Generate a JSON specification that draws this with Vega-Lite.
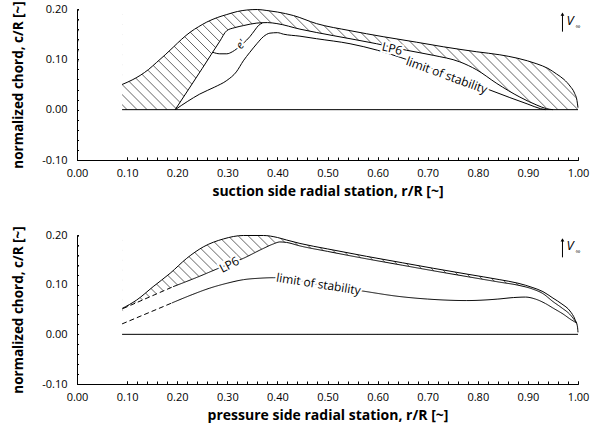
{
  "$schema": "https://vega.github.io/schema/vega-lite/v6.json",
  "padding": {"left": 11, "top": 0, "right": 5, "bottom": 5},
  "bounds": "flush",
  "spacing": 75,
  "config": {
    "font": "Open Sans",
    "view": {"stroke": null},
    "axis": {"grid": false, "domainColor": "#000", "tickColor": "#000", "labelColor": "#000", "titleColor": "#000", "labelFontSize": 11, "titleFontWeight": "bold", "tickSize": -3, "labelFlush": false, "labelBound": false, "zindex": 1, "domainWidth": 1, "tickWidth": 1},
    "text": {"font": "Open Sans", "fontSize": 12}
  },
  "datasets": {
    "one": [{}],
    "t_out": [
      {"x": 0.09, "y": 0.05}, {"x": 0.11, "y": 0.059}, {"x": 0.126, "y": 0.068}, {"x": 0.143, "y": 0.08}, {"x": 0.159, "y": 0.094}, {"x": 0.176, "y": 0.109}, {"x": 0.192, "y": 0.124}, {"x": 0.209, "y": 0.14}, {"x": 0.226, "y": 0.154}, {"x": 0.243, "y": 0.165}, {"x": 0.259, "y": 0.174}, {"x": 0.28, "y": 0.183}, {"x": 0.299, "y": 0.189}, {"x": 0.32, "y": 0.195}, {"x": 0.339, "y": 0.198}, {"x": 0.36, "y": 0.199}, {"x": 0.379, "y": 0.197}, {"x": 0.4, "y": 0.194}, {"x": 0.432, "y": 0.187}, {"x": 0.478, "y": 0.171}, {"x": 0.545, "y": 0.157}, {"x": 0.611, "y": 0.145}, {"x": 0.678, "y": 0.134}, {"x": 0.731, "y": 0.125}, {"x": 0.798, "y": 0.115}, {"x": 0.844, "y": 0.109}, {"x": 0.88, "y": 0.102}, {"x": 0.918, "y": 0.091}, {"x": 0.94, "y": 0.082}, {"x": 0.957, "y": 0.071}, {"x": 0.972, "y": 0.06}, {"x": 0.984, "y": 0.047}, {"x": 0.993, "y": 0.033}, {"x": 0.998, "y": 0.018}, {"x": 1.0, "y": 0.004}
    ],
    "t_lp6": [
      {"x": 0.196, "y": 0}, {"x": 0.25, "y": 0.082}, {"x": 0.285, "y": 0.136}, {"x": 0.299, "y": 0.157}, {"x": 0.315, "y": 0.163}, {"x": 0.332, "y": 0.167}, {"x": 0.359, "y": 0.172}, {"x": 0.38, "y": 0.173}, {"x": 0.399, "y": 0.171}, {"x": 0.445, "y": 0.16}, {"x": 0.512, "y": 0.147}, {"x": 0.598, "y": 0.131}, {"x": 0.658, "y": 0.118}, {"x": 0.711, "y": 0.108}, {"x": 0.764, "y": 0.095}, {"x": 0.798, "y": 0.079}, {"x": 0.838, "y": 0.052}, {"x": 0.884, "y": 0.025}, {"x": 0.918, "y": 0.009}, {"x": 0.937, "y": 0.002}, {"x": 0.95, "y": 0}
    ],
    "t_lim": [
      {"x": 0.196, "y": 0}, {"x": 0.22, "y": 0.016}, {"x": 0.245, "y": 0.031}, {"x": 0.275, "y": 0.045}, {"x": 0.299, "y": 0.058}, {"x": 0.318, "y": 0.075}, {"x": 0.332, "y": 0.097}, {"x": 0.345, "y": 0.114}, {"x": 0.359, "y": 0.131}, {"x": 0.372, "y": 0.145}, {"x": 0.385, "y": 0.152}, {"x": 0.4, "y": 0.153}, {"x": 0.412, "y": 0.15}, {"x": 0.445, "y": 0.146}, {"x": 0.478, "y": 0.141}, {"x": 0.545, "y": 0.131}, {"x": 0.6, "y": 0.118}, {"x": 0.645, "y": 0.104}, {"x": 0.7, "y": 0.085}, {"x": 0.75, "y": 0.066}, {"x": 0.811, "y": 0.044}, {"x": 0.864, "y": 0.024}, {"x": 0.9, "y": 0.011}, {"x": 0.925, "y": 0.002}, {"x": 0.935, "y": 0}
    ],
    "t_e": [
      {"x": 0.271, "y": 0.114}, {"x": 0.285, "y": 0.111}, {"x": 0.299, "y": 0.111}, {"x": 0.31, "y": 0.115}, {"x": 0.319, "y": 0.121}, {"x": 0.332, "y": 0.132}, {"x": 0.345, "y": 0.145}, {"x": 0.355, "y": 0.158}, {"x": 0.362, "y": 0.167}, {"x": 0.37, "y": 0.172}
    ],
    "t_hatch": [
      {"x": -0.1, "x2": 0.1}, {"x": -0.08, "x2": 0.12}, {"x": -0.06, "x2": 0.14}, {"x": -0.04, "x2": 0.16}, {"x": -0.02, "x2": 0.18}, {"x": 0.0, "x2": 0.2}, {"x": 0.02, "x2": 0.22}, {"x": 0.04, "x2": 0.24}, {"x": 0.06, "x2": 0.26}, {"x": 0.08, "x2": 0.28}, {"x": 0.1, "x2": 0.3}, {"x": 0.12, "x2": 0.32}, {"x": 0.14, "x2": 0.34}, {"x": 0.16, "x2": 0.36}, {"x": 0.18, "x2": 0.38}, {"x": 0.2, "x2": 0.4}, {"x": 0.22, "x2": 0.42}, {"x": 0.24, "x2": 0.44}, {"x": 0.26, "x2": 0.46}, {"x": 0.28, "x2": 0.48}, {"x": 0.3, "x2": 0.5}, {"x": 0.32, "x2": 0.52}, {"x": 0.34, "x2": 0.54}, {"x": 0.36, "x2": 0.56}, {"x": 0.38, "x2": 0.58}, {"x": 0.4, "x2": 0.6}, {"x": 0.42, "x2": 0.62}, {"x": 0.44, "x2": 0.64}, {"x": 0.46, "x2": 0.66}, {"x": 0.48, "x2": 0.68}, {"x": 0.5, "x2": 0.7}, {"x": 0.52, "x2": 0.72}, {"x": 0.54, "x2": 0.74}, {"x": 0.56, "x2": 0.76}, {"x": 0.58, "x2": 0.78}, {"x": 0.6, "x2": 0.8}, {"x": 0.62, "x2": 0.82}, {"x": 0.64, "x2": 0.84}, {"x": 0.66, "x2": 0.86}, {"x": 0.68, "x2": 0.88}, {"x": 0.7, "x2": 0.9}, {"x": 0.72, "x2": 0.92}, {"x": 0.74, "x2": 0.94}, {"x": 0.76, "x2": 0.96}, {"x": 0.78, "x2": 0.98}, {"x": 0.8, "x2": 1.0}, {"x": 0.82, "x2": 1.02}
    ],
    "t_lab": [
      {"t": "LP6", "x": 0.629, "y": 0.121},
      {"t": "limit of stability", "x": 0.738, "y": 0.068},
      {"t": "e'", "x": 0.328, "y": 0.129}
    ],
    "b_out": [
      {"x": 0.09, "y": 0.052}, {"x": 0.119, "y": 0.069}, {"x": 0.152, "y": 0.096}, {"x": 0.186, "y": 0.123}, {"x": 0.219, "y": 0.153}, {"x": 0.252, "y": 0.176}, {"x": 0.292, "y": 0.192}, {"x": 0.332, "y": 0.199}, {"x": 0.372, "y": 0.199}, {"x": 0.4, "y": 0.195}, {"x": 0.418, "y": 0.19}, {"x": 0.445, "y": 0.183}, {"x": 0.5, "y": 0.172}, {"x": 0.578, "y": 0.157}, {"x": 0.65, "y": 0.144}, {"x": 0.711, "y": 0.133}, {"x": 0.78, "y": 0.121}, {"x": 0.844, "y": 0.11}, {"x": 0.88, "y": 0.103}, {"x": 0.91, "y": 0.094}, {"x": 0.93, "y": 0.086}, {"x": 0.95, "y": 0.073}, {"x": 0.968, "y": 0.061}, {"x": 0.984, "y": 0.047}, {"x": 0.994, "y": 0.03}, {"x": 0.999, "y": 0.015}, {"x": 1.0, "y": 0.004}
    ],
    "b_lp6": [
      {"part": "dash", "x": 0.092, "y": 0.052}, {"part": "dash", "x": 0.192, "y": 0.096},
      {"part": "solid", "x": 0.192, "y": 0.096}, {"part": "solid", "x": 0.24, "y": 0.115}, {"part": "solid", "x": 0.285, "y": 0.134}, {"part": "solid", "x": 0.332, "y": 0.153}, {"part": "solid", "x": 0.37, "y": 0.172}, {"part": "solid", "x": 0.392, "y": 0.182}, {"part": "solid", "x": 0.405, "y": 0.186}, {"part": "solid", "x": 0.418, "y": 0.185}, {"part": "solid", "x": 0.445, "y": 0.178}, {"part": "solid", "x": 0.5, "y": 0.167}, {"part": "solid", "x": 0.578, "y": 0.152}, {"part": "solid", "x": 0.65, "y": 0.139}, {"part": "solid", "x": 0.711, "y": 0.128}, {"part": "solid", "x": 0.78, "y": 0.116}, {"part": "solid", "x": 0.844, "y": 0.105}, {"part": "solid", "x": 0.88, "y": 0.099}, {"part": "solid", "x": 0.91, "y": 0.091}, {"part": "solid", "x": 0.93, "y": 0.082}, {"part": "solid", "x": 0.95, "y": 0.066}, {"part": "solid", "x": 0.968, "y": 0.053}, {"part": "solid", "x": 0.984, "y": 0.04}, {"part": "solid", "x": 0.997, "y": 0.023}
    ],
    "b_lim": [
      {"part": "dash", "x": 0.09, "y": 0.021}, {"part": "dash", "x": 0.189, "y": 0.063},
      {"part": "solid", "x": 0.189, "y": 0.063}, {"part": "solid", "x": 0.23, "y": 0.08}, {"part": "solid", "x": 0.265, "y": 0.093}, {"part": "solid", "x": 0.3, "y": 0.103}, {"part": "solid", "x": 0.332, "y": 0.11}, {"part": "solid", "x": 0.365, "y": 0.113}, {"part": "solid", "x": 0.392, "y": 0.114}, {"part": "solid", "x": 0.4, "y": 0.114}, {"part": "solid", "x": 0.48, "y": 0.101}, {"part": "solid", "x": 0.565, "y": 0.088}, {"part": "solid", "x": 0.645, "y": 0.076}, {"part": "solid", "x": 0.7, "y": 0.071}, {"part": "solid", "x": 0.778, "y": 0.068}, {"part": "solid", "x": 0.84, "y": 0.071}, {"part": "solid", "x": 0.871, "y": 0.074}, {"part": "solid", "x": 0.895, "y": 0.075}, {"part": "solid", "x": 0.915, "y": 0.071}, {"part": "solid", "x": 0.935, "y": 0.062}, {"part": "solid", "x": 0.95, "y": 0.053}, {"part": "solid", "x": 0.97, "y": 0.041}, {"part": "solid", "x": 0.987, "y": 0.029}, {"part": "solid", "x": 0.997, "y": 0.023}
    ],
    "b_hatch": [
      {"x": -0.06, "x2": 0.14}, {"x": -0.04, "x2": 0.16}, {"x": -0.02, "x2": 0.18}, {"x": 0.0, "x2": 0.2}, {"x": 0.02, "x2": 0.22}, {"x": 0.04, "x2": 0.24}, {"x": 0.06, "x2": 0.26}, {"x": 0.08, "x2": 0.28}, {"x": 0.1, "x2": 0.3}, {"x": 0.12, "x2": 0.32}, {"x": 0.14, "x2": 0.34}, {"x": 0.16, "x2": 0.36}, {"x": 0.18, "x2": 0.38}, {"x": 0.2, "x2": 0.4}, {"x": 0.22, "x2": 0.42}, {"x": 0.24, "x2": 0.44}, {"x": 0.26, "x2": 0.46}, {"x": 0.28, "x2": 0.48}, {"x": 0.3, "x2": 0.5}, {"x": 0.32, "x2": 0.52}, {"x": 0.34, "x2": 0.54}, {"x": 0.36, "x2": 0.56}, {"x": 0.38, "x2": 0.58}, {"x": 0.4, "x2": 0.6}, {"x": 0.42, "x2": 0.62}, {"x": 0.44, "x2": 0.64}, {"x": 0.46, "x2": 0.66}, {"x": 0.48, "x2": 0.68}, {"x": 0.5, "x2": 0.7}, {"x": 0.52, "x2": 0.72}, {"x": 0.54, "x2": 0.74}, {"x": 0.56, "x2": 0.76}, {"x": 0.58, "x2": 0.78}, {"x": 0.6, "x2": 0.8}, {"x": 0.62, "x2": 0.82}, {"x": 0.64, "x2": 0.84}, {"x": 0.66, "x2": 0.86}, {"x": 0.68, "x2": 0.88}, {"x": 0.7, "x2": 0.9}, {"x": 0.72, "x2": 0.92}, {"x": 0.74, "x2": 0.94}, {"x": 0.76, "x2": 0.96}, {"x": 0.78, "x2": 0.98}
    ],
    "b_lab": [
      {"t": "LP6", "x": 0.304, "y": 0.14},
      {"t": "limit of stability", "x": 0.482, "y": 0.101}
    ],
    "vinf": [{"x": 0.969, "y": 0.155, "y2": 0.19}]
  },
  "vconcat": [
    {
      "width": 501,
      "height": 151,
      "resolve": {"axis": {"x": "independent", "y": "independent"}},
      "layer": [
        {
          "layer": [
            {
              "data": {"name": "t_hatch"},
              "mark": {"type": "rule", "clip": true, "color": "#222", "strokeWidth": 0.7},
              "encoding": {
                "x": {"field": "x", "type": "quantitative", "scale": {"domain": [0, 1]},
                  "axis": {"title": "suction side radial station, r/R [~]", "titleFontSize": 14, "orient": "bottom", "values": [0, 0.1, 0.2, 0.3, 0.4, 0.5, 0.6, 0.7, 0.8, 0.9, 1], "format": ".2f", "labelPadding": 10, "titlePadding": 6}},
                "x2": {"field": "x2"},
                "y": {"datum": 0.2, "type": "quantitative", "scale": {"domain": [-0.1, 0.2]},
                  "axis": {"title": "normalized chord, c/R [~]", "titleFontSize": 13.5, "orient": "left", "values": [-0.1, 0, 0.1, 0.2], "format": ".2f", "labelExpr": "replace(datum.label, '\u2212', '-')", "labelPadding": 13, "titlePadding": 16}},
                "y2": {"datum": 0}
              }
            },
            {
              "data": {"name": "t_out"},
              "mark": {"type": "area", "color": "white", "interpolate": "monotone", "clip": true},
              "encoding": {"x": {"field": "x", "type": "quantitative"}, "y": {"field": "y", "type": "quantitative"}, "y2": {"datum": 0.25}}
            },
            {
              "data": {"name": "one"},
              "mark": {"type": "rect", "color": "white", "clip": true},
              "encoding": {"x": {"datum": 0.004}, "x2": {"datum": 0.09}, "y": {"datum": -0.1}, "y2": {"datum": 0.25}}
            },
            {
              "data": {"name": "t_lp6"},
              "mark": {"type": "area", "color": "white", "interpolate": "monotone"},
              "encoding": {"x": {"field": "x", "type": "quantitative"}, "y": {"field": "y", "type": "quantitative"}, "y2": {"datum": 0}}
            },
            {
              "data": {"name": "one"},
              "mark": {"type": "rule", "color": "black", "strokeWidth": 1},
              "encoding": {"x": {"datum": 0.09}, "x2": {"datum": 1.0}, "y": {"datum": 0}}
            },
            {
              "data": {"name": "t_out"},
              "mark": {"type": "line", "color": "black", "strokeWidth": 1, "interpolate": "monotone"},
              "encoding": {"x": {"field": "x", "type": "quantitative"}, "y": {"field": "y", "type": "quantitative"}}
            },
            {
              "data": {"name": "t_lp6"},
              "mark": {"type": "line", "color": "black", "strokeWidth": 1, "interpolate": "monotone"},
              "encoding": {"x": {"field": "x", "type": "quantitative"}, "y": {"field": "y", "type": "quantitative"}}
            },
            {
              "data": {"name": "t_lim"},
              "mark": {"type": "line", "color": "black", "strokeWidth": 1, "interpolate": "monotone"},
              "encoding": {"x": {"field": "x", "type": "quantitative"}, "y": {"field": "y", "type": "quantitative"}}
            },
            {
              "data": {"name": "t_e"},
              "mark": {"type": "line", "color": "black", "strokeWidth": 1, "interpolate": "monotone"},
              "encoding": {"x": {"field": "x", "type": "quantitative"}, "y": {"field": "y", "type": "quantitative"}}
            },
            {
              "data": {"name": "t_lab"},
              "transform": [{"filter": "datum.t == 'LP6'"}],
              "mark": {"type": "text", "angle": 13, "fill": "white", "stroke": "white", "strokeWidth": 4, "fontSize": 12},
              "encoding": {"x": {"field": "x", "type": "quantitative"}, "y": {"field": "y", "type": "quantitative"}, "text": {"field": "t"}}
            },
            {
              "data": {"name": "t_lab"},
              "transform": [{"filter": "datum.t == 'LP6'"}],
              "mark": {"type": "text", "angle": 13, "fill": "black", "fontSize": 12},
              "encoding": {"x": {"field": "x", "type": "quantitative"}, "y": {"field": "y", "type": "quantitative"}, "text": {"field": "t"}}
            },
            {
              "data": {"name": "t_lab"},
              "transform": [{"filter": "datum.t == 'limit of stability'"}],
              "mark": {"type": "text", "angle": 20, "fill": "white", "stroke": "white", "strokeWidth": 4, "fontSize": 12},
              "encoding": {"x": {"field": "x", "type": "quantitative"}, "y": {"field": "y", "type": "quantitative"}, "text": {"field": "t"}}
            },
            {
              "data": {"name": "t_lab"},
              "transform": [{"filter": "datum.t == 'limit of stability'"}],
              "mark": {"type": "text", "angle": 20, "fill": "black", "fontSize": 12},
              "encoding": {"x": {"field": "x", "type": "quantitative"}, "y": {"field": "y", "type": "quantitative"}, "text": {"field": "t"}}
            },
            {
              "data": {"name": "t_lab"},
              "transform": [{"filter": "datum.t == \"e'\""}],
              "mark": {"type": "text", "angle": -50, "fill": "white", "stroke": "white", "strokeWidth": 4, "fontSize": 11, "fontStyle": "italic"},
              "encoding": {"x": {"field": "x", "type": "quantitative"}, "y": {"field": "y", "type": "quantitative"}, "text": {"field": "t"}}
            },
            {
              "data": {"name": "t_lab"},
              "transform": [{"filter": "datum.t == \"e'\""}],
              "mark": {"type": "text", "angle": -50, "fill": "black", "fontSize": 11, "fontStyle": "italic"},
              "encoding": {"x": {"field": "x", "type": "quantitative"}, "y": {"field": "y", "type": "quantitative"}, "text": {"field": "t"}}
            },
            {
              "data": {"name": "vinf"},
              "mark": {"type": "rule", "color": "black", "strokeWidth": 1},
              "encoding": {"x": {"field": "x", "type": "quantitative"}, "y": {"field": "y", "type": "quantitative"}, "y2": {"field": "y2"}}
            },
            {
              "data": {"name": "vinf"},
              "mark": {"type": "point", "shape": "triangle-up", "filled": true, "color": "black", "size": 14, "opacity": 1},
              "encoding": {"x": {"field": "x", "type": "quantitative"}, "y": {"field": "y2", "type": "quantitative"}}
            },
            {
              "data": {"name": "vinf"},
              "mark": {"type": "text", "text": "V", "fontStyle": "italic", "fontSize": 13, "align": "left", "dx": 4, "dy": -11, "color": "black"},
              "encoding": {"x": {"field": "x", "type": "quantitative"}, "y": {"field": "y", "type": "quantitative"}}
            },
            {
              "data": {"name": "vinf"},
              "mark": {"type": "text", "text": "\u221e", "fontSize": 7, "align": "left", "dx": 13, "dy": -5, "color": "black"},
              "encoding": {"x": {"field": "x", "type": "quantitative"}, "y": {"field": "y", "type": "quantitative"}}
            }
          ]
        },
        {
          "data": {"name": "one"},
          "mark": {"type": "point", "opacity": 0},
          "encoding": {
            "x": {"datum": 0.5, "type": "quantitative", "axis": {"orient": "bottom", "title": null, "labels": false, "domain": false, "values": [0,0.02,0.04,0.06,0.08,0.1,0.12,0.14,0.16,0.18,0.2,0.22,0.24,0.26,0.28,0.3,0.32,0.34,0.36,0.38,0.4,0.42,0.44,0.46,0.48,0.5,0.52,0.54,0.56,0.58,0.6,0.62,0.64,0.66,0.68,0.7,0.72,0.74,0.76,0.78,0.8,0.82,0.84,0.86,0.88,0.9,0.92,0.94,0.96,0.98,1]}},
            "y": {"datum": 0.05, "type": "quantitative", "axis": {"orient": "left", "title": null, "labels": false, "domain": false, "values": [-0.1,-0.08,-0.06,-0.04,-0.02,0,0.02,0.04,0.06,0.08,0.1,0.12,0.14,0.16,0.18,0.2]}}
          }
        }
      ]
    },
    {
      "width": 501,
      "height": 149,
      "resolve": {"axis": {"x": "independent", "y": "independent"}},
      "layer": [
        {
          "layer": [
            {
              "data": {"name": "b_hatch"},
              "mark": {"type": "rule", "clip": true, "color": "#222", "strokeWidth": 0.7},
              "encoding": {
                "x": {"field": "x", "type": "quantitative", "scale": {"domain": [0, 1]},
                  "axis": {"title": "pressure side radial station, r/R [~]", "titleFontSize": 14, "orient": "bottom", "values": [0, 0.1, 0.2, 0.3, 0.4, 0.5, 0.6, 0.7, 0.8, 0.9, 1], "format": ".2f", "labelPadding": 10, "titlePadding": 6}},
                "x2": {"field": "x2"},
                "y": {"datum": 0.2, "type": "quantitative", "scale": {"domain": [-0.1, 0.2]},
                  "axis": {"title": "normalized chord, c/R [~]", "titleFontSize": 13.5, "orient": "left", "values": [-0.1, 0, 0.1, 0.2], "format": ".2f", "labelExpr": "replace(datum.label, '\u2212', '-')", "labelPadding": 13, "titlePadding": 16}},
                "y2": {"datum": 0}
              }
            },
            {
              "data": {"name": "b_out"},
              "mark": {"type": "area", "color": "white", "interpolate": "monotone", "clip": true},
              "encoding": {"x": {"field": "x", "type": "quantitative"}, "y": {"field": "y", "type": "quantitative"}, "y2": {"datum": 0.25}}
            },
            {
              "data": {"name": "one"},
              "mark": {"type": "rect", "color": "white", "clip": true},
              "encoding": {"x": {"datum": 0.004}, "x2": {"datum": 0.09}, "y": {"datum": -0.1}, "y2": {"datum": 0.25}}
            },
            {
              "data": {"name": "b_lp6"},
              "mark": {"type": "area", "color": "white", "interpolate": "monotone"},
              "encoding": {"x": {"field": "x", "type": "quantitative"}, "y": {"field": "y", "type": "quantitative"}, "y2": {"datum": 0}}
            },
            {
              "data": {"name": "one"},
              "mark": {"type": "rule", "color": "black", "strokeWidth": 1},
              "encoding": {"x": {"datum": 0.09}, "x2": {"datum": 1.0}, "y": {"datum": 0}}
            },
            {
              "data": {"name": "b_out"},
              "mark": {"type": "line", "color": "black", "strokeWidth": 1, "interpolate": "monotone"},
              "encoding": {"x": {"field": "x", "type": "quantitative"}, "y": {"field": "y", "type": "quantitative"}}
            },
            {
              "data": {"name": "b_lp6"},
              "mark": {"type": "line", "color": "black", "strokeWidth": 1, "interpolate": "monotone"},
              "encoding": {"x": {"field": "x", "type": "quantitative"}, "y": {"field": "y", "type": "quantitative"}, "detail": {"field": "part"},
                "strokeDash": {"field": "part", "type": "nominal", "scale": {"domain": ["solid", "dash"], "range": [[1, 0], [5, 3]]}, "legend": null}}
            },
            {
              "data": {"name": "b_lim"},
              "mark": {"type": "line", "color": "black", "strokeWidth": 1, "interpolate": "monotone"},
              "encoding": {"x": {"field": "x", "type": "quantitative"}, "y": {"field": "y", "type": "quantitative"}, "detail": {"field": "part"},
                "strokeDash": {"field": "part", "type": "nominal", "scale": {"domain": ["solid", "dash"], "range": [[1, 0], [5, 3]]}, "legend": null}}
            },
            {
              "data": {"name": "b_lab"},
              "transform": [{"filter": "datum.t == 'LP6'"}],
              "mark": {"type": "text", "angle": -28, "fill": "white", "stroke": "white", "strokeWidth": 4, "fontSize": 12},
              "encoding": {"x": {"field": "x", "type": "quantitative"}, "y": {"field": "y", "type": "quantitative"}, "text": {"field": "t"}}
            },
            {
              "data": {"name": "b_lab"},
              "transform": [{"filter": "datum.t == 'LP6'"}],
              "mark": {"type": "text", "angle": -28, "fill": "black", "fontSize": 12},
              "encoding": {"x": {"field": "x", "type": "quantitative"}, "y": {"field": "y", "type": "quantitative"}, "text": {"field": "t"}}
            },
            {
              "data": {"name": "b_lab"},
              "transform": [{"filter": "datum.t == 'limit of stability'"}],
              "mark": {"type": "text", "angle": 9, "fill": "white", "stroke": "white", "strokeWidth": 4, "fontSize": 12},
              "encoding": {"x": {"field": "x", "type": "quantitative"}, "y": {"field": "y", "type": "quantitative"}, "text": {"field": "t"}}
            },
            {
              "data": {"name": "b_lab"},
              "transform": [{"filter": "datum.t == 'limit of stability'"}],
              "mark": {"type": "text", "angle": 9, "fill": "black", "fontSize": 12},
              "encoding": {"x": {"field": "x", "type": "quantitative"}, "y": {"field": "y", "type": "quantitative"}, "text": {"field": "t"}}
            },
            {
              "data": {"name": "vinf"},
              "mark": {"type": "rule", "color": "black", "strokeWidth": 1},
              "encoding": {"x": {"field": "x", "type": "quantitative"}, "y": {"field": "y", "type": "quantitative"}, "y2": {"field": "y2"}}
            },
            {
              "data": {"name": "vinf"},
              "mark": {"type": "point", "shape": "triangle-up", "filled": true, "color": "black", "size": 14, "opacity": 1},
              "encoding": {"x": {"field": "x", "type": "quantitative"}, "y": {"field": "y2", "type": "quantitative"}}
            },
            {
              "data": {"name": "vinf"},
              "mark": {"type": "text", "text": "V", "fontStyle": "italic", "fontSize": 13, "align": "left", "dx": 4, "dy": -11, "color": "black"},
              "encoding": {"x": {"field": "x", "type": "quantitative"}, "y": {"field": "y", "type": "quantitative"}}
            },
            {
              "data": {"name": "vinf"},
              "mark": {"type": "text", "text": "\u221e", "fontSize": 7, "align": "left", "dx": 13, "dy": -5, "color": "black"},
              "encoding": {"x": {"field": "x", "type": "quantitative"}, "y": {"field": "y", "type": "quantitative"}}
            }
          ]
        },
        {
          "data": {"name": "one"},
          "mark": {"type": "point", "opacity": 0},
          "encoding": {
            "x": {"datum": 0.5, "type": "quantitative", "axis": {"orient": "bottom", "title": null, "labels": false, "domain": false, "values": [0,0.02,0.04,0.06,0.08,0.1,0.12,0.14,0.16,0.18,0.2,0.22,0.24,0.26,0.28,0.3,0.32,0.34,0.36,0.38,0.4,0.42,0.44,0.46,0.48,0.5,0.52,0.54,0.56,0.58,0.6,0.62,0.64,0.66,0.68,0.7,0.72,0.74,0.76,0.78,0.8,0.82,0.84,0.86,0.88,0.9,0.92,0.94,0.96,0.98,1]}},
            "y": {"datum": 0.05, "type": "quantitative", "axis": {"orient": "left", "title": null, "labels": false, "domain": false, "values": [-0.1,-0.08,-0.06,-0.04,-0.02,0,0.02,0.04,0.06,0.08,0.1,0.12,0.14,0.16,0.18,0.2]}}
          }
        }
      ]
    }
  ]
}
